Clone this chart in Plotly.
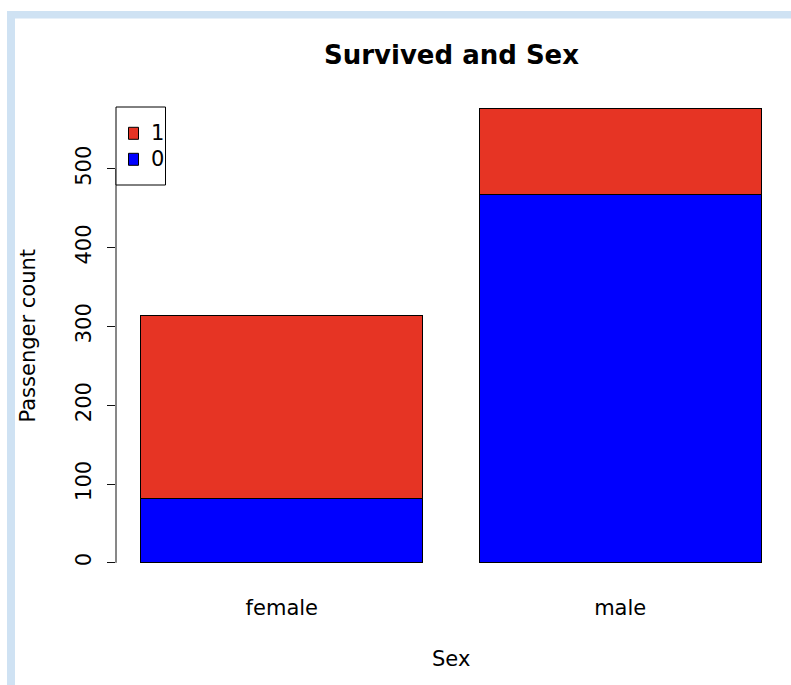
import plotly.graph_objects as go

# Titanic passengers by sex, split by survival (0 = died, 1 = survived)
sex = ["female", "male"]
died = [81, 468]
survived = [233, 109]
y_ticks = [0, 100, 200, 300, 400, 500]

W, H = 791, 685
# plot area in pixels
L, R, T, B = 116, 786, 90, 581
PW, PH = R - L, B - T


def px_x(p):
    return (p - L) / PW


def px_y(p):
    return (B - p) / PH


FONT = "DejaVu Sans"
RED = "#e63424"
BLUE = "#0000ff"

series = [("0", died, BLUE), ("1", survived, RED)]

fig = go.Figure()
for name, vals, col in series:
    fig.add_trace(go.Bar(
        x=sex, y=vals, name=name, showlegend=False,
        marker=dict(color=col, line=dict(color="black", width=1)),
    ))

total_max = max(d + s for d, s in zip(died, survived))
pad = 0.04 * total_max

shapes = [
    # frame bands along the top and left
    dict(type="rect", xref="paper", yref="paper",
         x0=px_x(7), x1=px_x(W + 5), y0=px_y(11), y1=px_y(18.5),
         fillcolor="#cfe2f3", line=dict(width=0), layer="below"),
    dict(type="rect", xref="paper", yref="paper",
         x0=px_x(7), x1=px_x(15), y0=px_y(11), y1=px_y(H + 5),
         fillcolor="#cfe2f3", line=dict(width=0), layer="below"),
    # y axis line spanning the tick range
    dict(type="line", xref="paper", yref="y",
         x0=0, x1=0, y0=y_ticks[0], y1=y_ticks[-1],
         line=dict(color="#111111", width=1)),
    # legend box
    dict(type="rect", xref="paper", yref="paper",
         x0=px_x(116), x1=px_x(165.5), y0=px_y(107), y1=px_y(185),
         fillcolor="white", line=dict(color="black", width=1)),
]

annotations = [
    dict(text="<b>Survived and Sex</b>", xref="paper", yref="paper",
         x=0.5, y=px_y(55), xanchor="center", yanchor="middle",
         showarrow=False, font=dict(family=FONT, size=26, color="black")),
    dict(text="Sex", xref="paper", yref="paper",
         x=0.5, y=px_y(659), xanchor="center", yanchor="middle",
         showarrow=False, font=dict(family=FONT, size=21, color="black")),
    dict(text="Passenger count", xref="paper", yref="paper",
         x=px_x(27), y=0.5, xanchor="center", yanchor="middle", textangle=-90,
         showarrow=False, font=dict(family=FONT, size=21, color="black")),
]

# legend entries, top entry is the last (topmost) series
for i, (name, _, col) in enumerate(reversed(series)):
    cy = 133.3 + i * 26
    shapes.append(dict(
        type="rect", xref="paper", yref="paper",
        x0=px_x(128.5), x1=px_x(138.5), y0=px_y(cy - 6), y1=px_y(cy + 6),
        fillcolor=col, line=dict(color="black", width=1),
    ))
    annotations.append(dict(
        text=name, xref="paper", yref="paper",
        x=px_x(148.5), y=px_y(cy), xanchor="left", yanchor="middle",
        showarrow=False, font=dict(family=FONT, size=21, color="black"),
    ))

fig.update_layout(
    width=W, height=H,
    margin=dict(l=L, r=W - R, t=T, b=H - B, pad=0),
    paper_bgcolor="white", plot_bgcolor="white",
    barmode="stack", bargap=1 - 1 / 1.2,
    font=dict(family=FONT, size=21, color="black"),
    showlegend=False,
    xaxis=dict(
        range=[-0.49, 1.49], showgrid=False, zeroline=False, showline=False,
        ticks="outside", ticklen=8, tickcolor="rgba(0,0,0,0)",
        tickfont=dict(family=FONT, size=21, color="black"),
    ),
    yaxis=dict(
        range=[-pad, total_max + pad], showgrid=False, zeroline=False,
        showline=False, tickvals=y_ticks, tickangle=-90,
        ticks="outside", ticklen=8, tickcolor="#111111",
        ticklabelstandoff=8,
        tickfont=dict(family=FONT, size=21, color="black"),
    ),
    shapes=shapes, annotations=annotations,
)

fig.write_html("out.html")
